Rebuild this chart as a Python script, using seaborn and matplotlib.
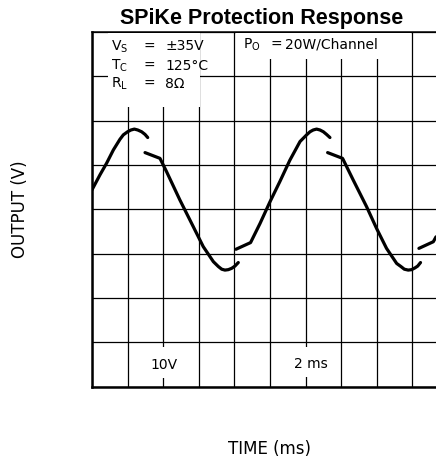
import matplotlib
matplotlib.use("Agg")
import matplotlib.pyplot as plt
from matplotlib.patches import Rectangle
import seaborn as sns
import pandas as pd
import numpy as np

# trace, time in ms, output in V (gaps = SPiKe events)
seg1_t = [0.00, 0.45, 0.82, 1.20, 1.57, 1.76, 2.00, 2.19, 2.38, 2.57, 2.79, 2.98, 3.13]
seg1_v = [4.4, 7.8, 10.4, 13.4, 15.8, 16.8, 17.5, 17.9, 18.1, 17.9, 17.5, 16.9, 16.2]
seg2_t = [2.98, 3.82, 4.19, 4.94, 5.69, 6.25, 6.82, 7.10, 7.29, 7.47, 7.66, 7.85, 8.03, 8.22]
seg2_v = [12.8, 11.5, 8.5, 2.1, -3.9, -8.4, -11.8, -12.9, -13.5, -13.7, -13.6, -13.3, -12.8, -12.0]
seg3_t = [8.09, 8.91, 9.44, 10.00, 10.56, 11.12, 11.69, 12.06, 12.25, 12.43, 12.62,
          12.81, 13.00, 13.18, 13.37]
seg3_v = [-9.0, -7.5, -3.2, 1.7, 6.3, 11.1, 15.3, 16.8, 17.5, 17.9, 18.1,
          17.9, 17.5, 16.9, 16.2]
seg4_t = [13.24, 14.08, 14.68, 15.43, 15.99, 16.55, 17.12, 17.36, 17.55, 17.77, 17.96,
          18.15, 18.30, 18.46]
seg4_v = [12.8, 11.5, 6.6, 0.6, -4.3, -8.8, -12.2, -12.9, -13.5, -13.7, -13.6,
          -13.2, -12.8, -12.0]
seg5_t = [18.37, 19.18, 19.33]
seg5_v = [-8.8, -7.3, -6.2]

segments = [(seg1_t, seg1_v), (seg2_t, seg2_v), (seg3_t, seg3_v),
            (seg4_t, seg4_v), (seg5_t, seg5_v)]

cond_names = [r"$\mathregular{V_S}$", r"$\mathregular{T_C}$", r"$\mathregular{R_L}$"]
cond_values = ["±35V", "125°C", "8Ω"]

time_div = 2     # ms per division
volt_div = 10    # V per division
x_max = 19.33
y_lim = 40

rows = []
for i, (t, v) in enumerate(segments):
    for a, b in zip(t, v):
        rows.append({"seg": i, "time": a, "volt": b})
df = pd.DataFrame(rows)

sns.set_theme(style="white")
plt.rcParams["font.family"] = ["DejaVu Sans"]
plt.rcParams["text.color"] = "black"

W, H = 436, 458
fig = plt.figure(figsize=(W / 100, H / 100), dpi=100)

ax_l, ax_r, ax_t, ax_b = 92, 436, 32, 386.7
ax = fig.add_axes([ax_l / W, 1 - ax_b / H, (ax_r - ax_l) / W, (ax_b - ax_t) / H])


def fx(px):
    return px / W


def fy(py):
    return 1 - py / H


sns.lineplot(data=df, x="time", y="volt", units="seg", estimator=None,
             sort=False, color="black", linewidth=2.3, ax=ax, zorder=3)

ax.set_xlim(0, x_max)
ax.set_ylim(-y_lim, y_lim)
ax.set_xticks(np.arange(0, x_max, time_div))
ax.set_yticks(np.arange(-y_lim, y_lim + 1, volt_div))
ax.tick_params(length=0, labelbottom=False, labelleft=False)
ax.set_xlabel("")
ax.set_ylabel("")
ax.set_axisbelow(True)
ax.grid(True, color="black", linewidth=0.9)

ax.spines["right"].set_visible(False)
ax.spines["left"].set_linewidth(1.8)
ax.spines["bottom"].set_linewidth(1.8)
ax.spines["top"].set_linewidth(1.1)
for s in ["left", "bottom", "top"]:
    ax.spines[s].set_color("black")

# white blanks behind the labels, as on the scope photo
for x0, y0, x1, y1 in [(108, 33, 199.5, 107), (235.5, 33, 411, 59),
                       (146, 347, 183, 378), (288, 347, 334, 377)]:
    ax.add_patch(Rectangle((fx(x0), fy(y1)), (x1 - x0) / W, (y1 - y0) / H,
                           transform=fig.transFigure, facecolor="white",
                           edgecolor="none", zorder=1))

small = 10
kw = dict(transform=fig.transFigure, fontsize=small, va="center", zorder=4)
for name, val, py in zip(cond_names, cond_values, [46.5, 66, 84]):
    ax.text(fx(111), fy(py), name, ha="left", **kw)
    ax.text(fx(149), fy(py), "=", ha="center", **kw)
    ax.text(fx(165), fy(py), val, ha="left", **kw)

ax.text(fx(243), fy(45), r"$\mathregular{P_O}$", ha="left", **kw)
ax.text(fx(276.5), fy(45), "=", ha="center", **kw)
ax.text(fx(285), fy(45), "20W/Channel", ha="left", **kw)
ax.text(fx(164), fy(365), "10V", ha="center", **kw)
ax.text(fx(311), fy(364), "2 ms", ha="center", **kw)

fig.text(fx(262), fy(18.5), "SPiKe Protection Response", fontsize=15.5,
         fontweight="bold", family="Liberation Sans", ha="center", va="center")
fig.text(fx(20), fy(209), "OUTPUT (V)", rotation=90, fontsize=12,
         ha="center", va="center")
fig.text(fx(270), fy(449), "TIME (ms)", fontsize=12, ha="center", va="center")

fig.savefig("out.png", dpi=100)
plt.close(fig)
